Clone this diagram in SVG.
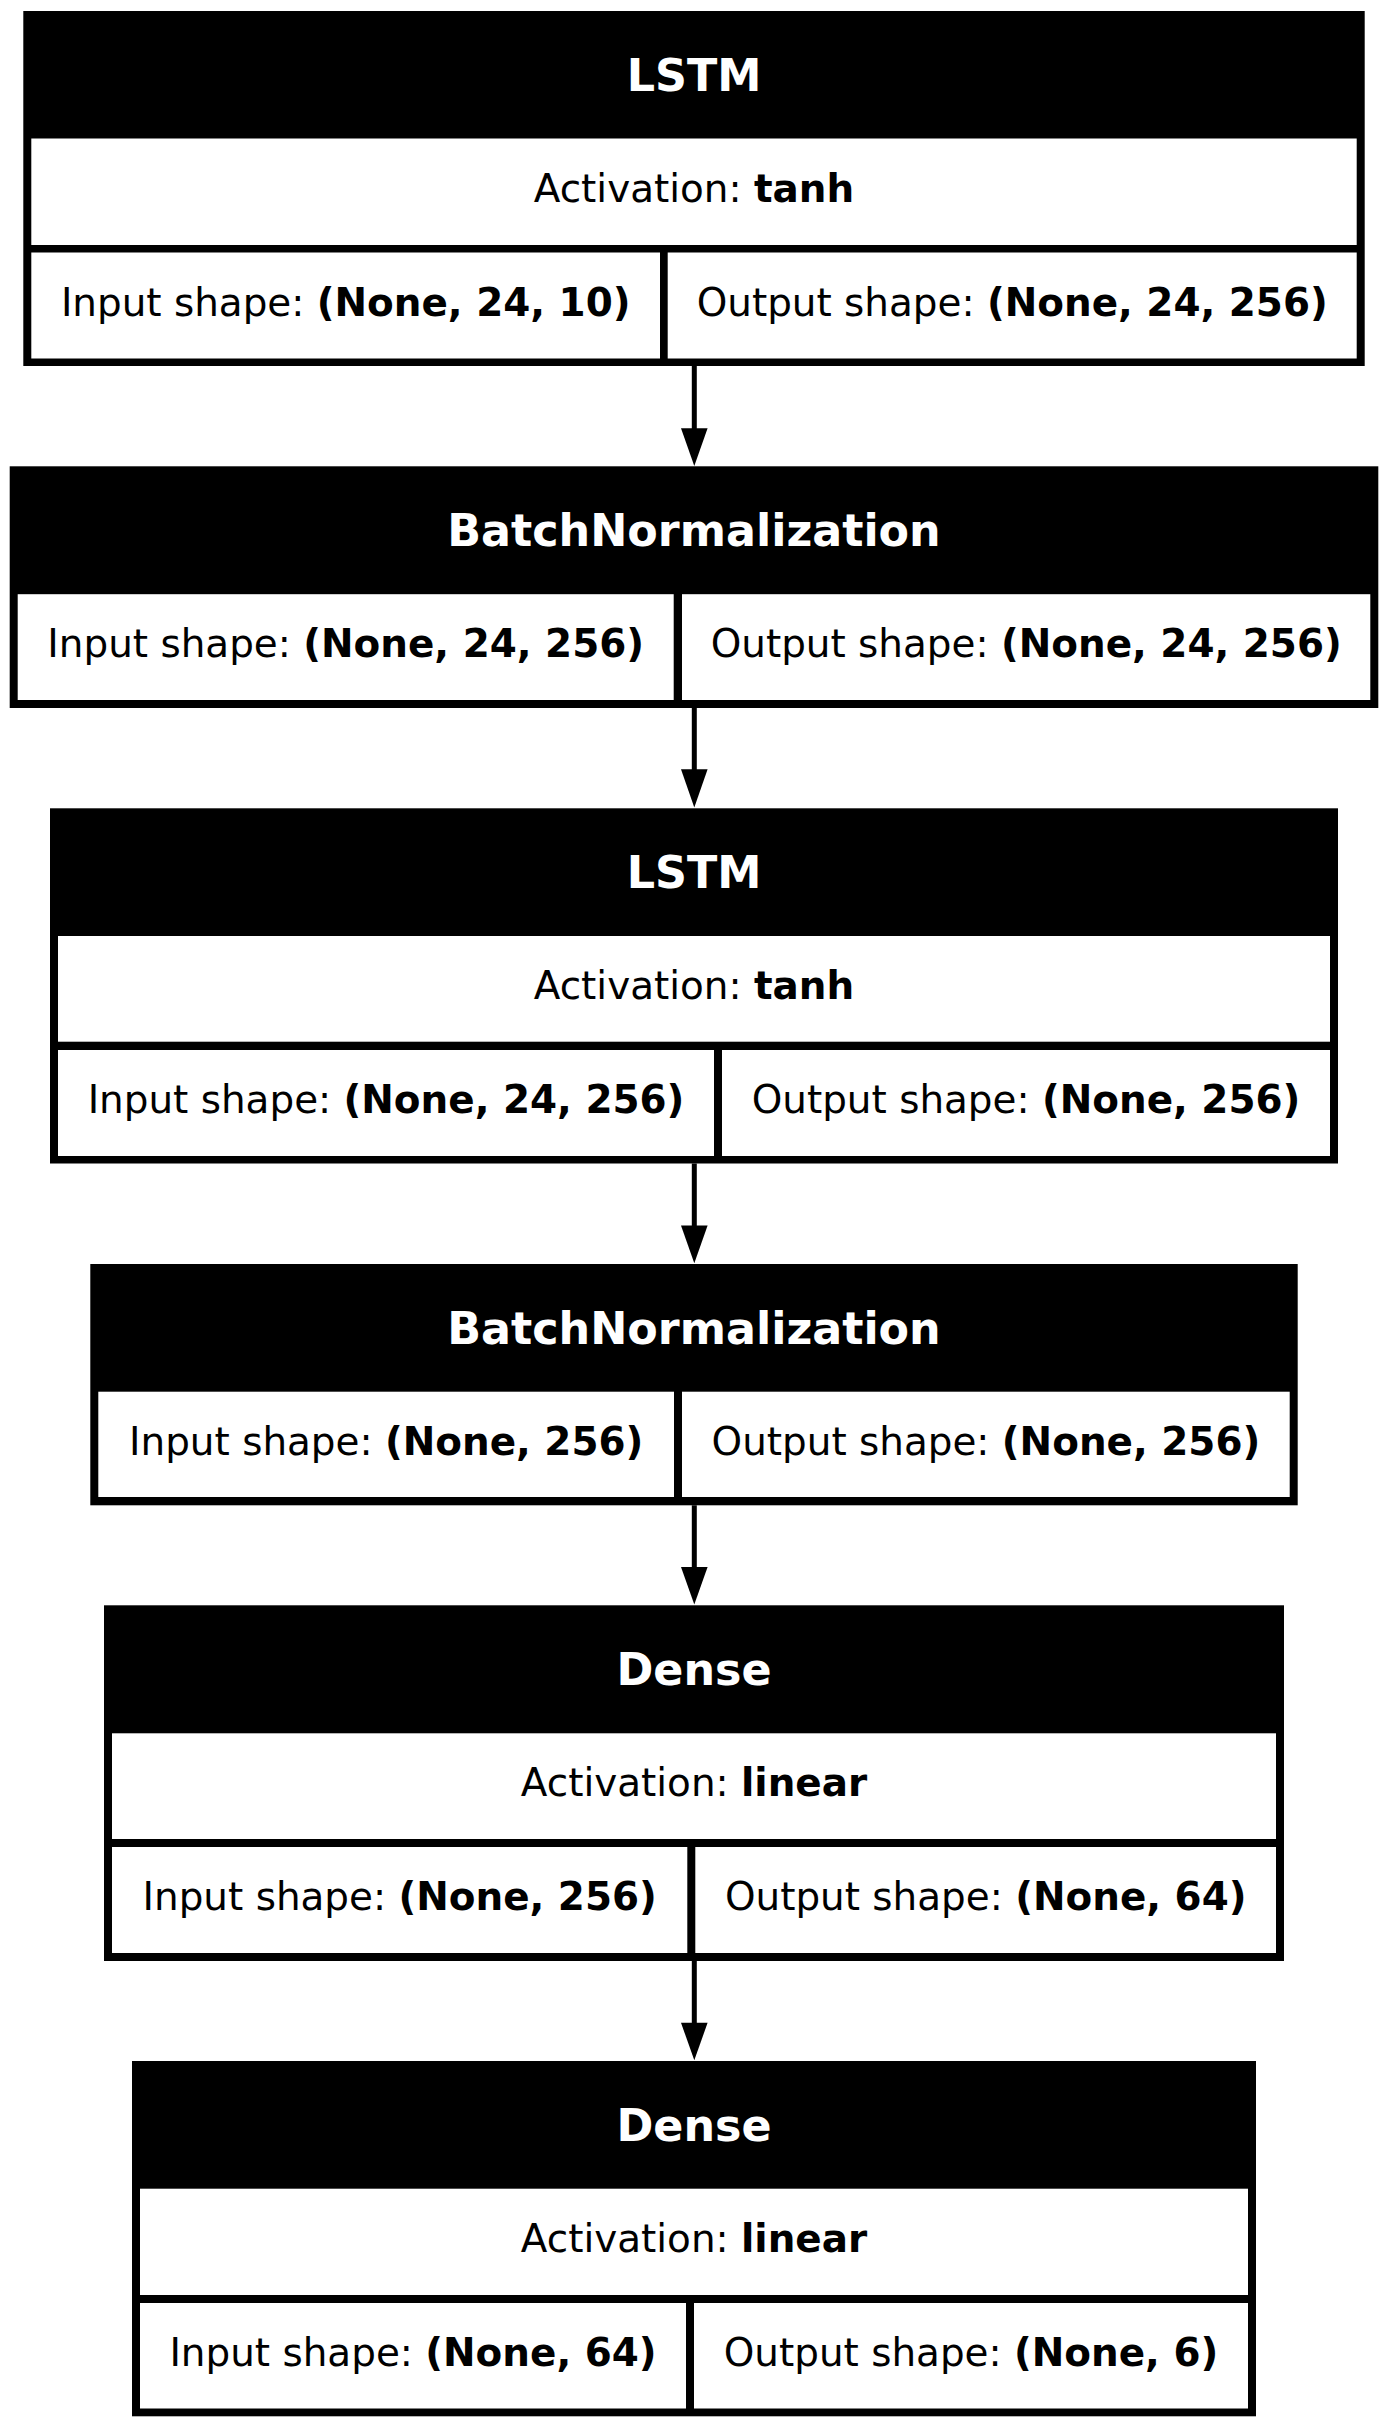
<svg xmlns="http://www.w3.org/2000/svg" width="1389" height="2428" viewBox="0 0 1389 2428">
<style>
.frame{fill:#000}
.cell{fill:#fff}
.hd{font-family:"DejaVu Sans",sans-serif;font-size:44.4px;font-weight:bold;fill:#fff;text-anchor:middle}
.tx{font-family:"DejaVu Sans",sans-serif;font-size:38.9px;fill:#000;text-anchor:middle}
.b{font-weight:bold}
.edge{stroke:#000;stroke-width:5;fill:none}
.head{fill:#000}
</style>
<rect width="1389" height="2428" fill="#fff"/>
<g id="connectors">
<line class="edge" x1="694.3" y1="366" x2="694.3" y2="430"/>
<polygon class="head" points="681,428.3 707.6,428.3 694.3,466"/>
<line class="edge" x1="694.3" y1="708" x2="694.3" y2="771"/>
<polygon class="head" points="681,769.3 707.6,769.3 694.3,807.5"/>
<line class="edge" x1="694.3" y1="1163.5" x2="694.3" y2="1228"/>
<polygon class="head" points="681,1225.5 707.6,1225.5 694.3,1263.3"/>
<line class="edge" x1="694.3" y1="1505.3" x2="694.3" y2="1569"/>
<polygon class="head" points="681,1567 707.6,1567 694.3,1604.6"/>
<line class="edge" x1="694.3" y1="1961" x2="694.3" y2="2025"/>
<polygon class="head" points="681,2022.7 707.6,2022.7 694.3,2060.3"/>
</g>
<g id="node1">
<rect class="frame" x="23.3" y="11" width="1341.4" height="355"/>
<rect class="cell" x="31.3" y="138.5" width="1325.4" height="106.5"/>
<rect class="cell" x="31.3" y="252.5" width="628.7" height="106"/>
<rect class="cell" x="667.7" y="252.5" width="689" height="106"/>
<text class="hd" x="694" y="91">LSTM</text>
<text class="tx" x="694" y="201.5">Activation: <tspan class="b">tanh</tspan></text>
<text class="tx" x="345.7" y="315.5">Input shape: <tspan class="b">(None, 24, 10)</tspan></text>
<text class="tx" x="1012.2" y="315.5">Output shape: <tspan class="b">(None, 24, 256)</tspan></text>
</g>
<g id="node2">
<rect class="frame" x="9.7" y="466.3" width="1368.6" height="241.7"/>
<rect class="cell" x="17.7" y="594.2" width="656" height="105.8"/>
<rect class="cell" x="682" y="594.2" width="688.3" height="105.8"/>
<text class="hd" x="694" y="546.3">BatchNormalization</text>
<text class="tx" x="345.7" y="657.2">Input shape: <tspan class="b">(None, 24, 256)</tspan></text>
<text class="tx" x="1026.2" y="657.2">Output shape: <tspan class="b">(None, 24, 256)</tspan></text>
</g>
<g id="node3">
<rect class="frame" x="50" y="808.3" width="1288" height="355.2"/>
<rect class="cell" x="58" y="936" width="1272" height="105.7"/>
<rect class="cell" x="58" y="1050" width="656" height="106"/>
<rect class="cell" x="722" y="1050" width="608" height="106"/>
<text class="hd" x="694" y="888.2">LSTM</text>
<text class="tx" x="694" y="999">Activation: <tspan class="b">tanh</tspan></text>
<text class="tx" x="386" y="1113">Input shape: <tspan class="b">(None, 24, 256)</tspan></text>
<text class="tx" x="1026" y="1113">Output shape: <tspan class="b">(None, 256)</tspan></text>
</g>
<g id="node4">
<rect class="frame" x="90.3" y="1264" width="1207.4" height="241.3"/>
<rect class="cell" x="98.3" y="1391.7" width="575.7" height="105.3"/>
<rect class="cell" x="682" y="1391.7" width="607.7" height="105.3"/>
<text class="hd" x="694" y="1343.8">BatchNormalization</text>
<text class="tx" x="386.2" y="1454.7">Input shape: <tspan class="b">(None, 256)</tspan></text>
<text class="tx" x="985.9" y="1454.7">Output shape: <tspan class="b">(None, 256)</tspan></text>
</g>
<g id="node5">
<rect class="frame" x="104" y="1605.3" width="1180" height="355.7"/>
<rect class="cell" x="112" y="1733.3" width="1164" height="105.7"/>
<rect class="cell" x="112" y="1847" width="575.3" height="106"/>
<rect class="cell" x="695.3" y="1847" width="580.7" height="106"/>
<text class="hd" x="694" y="1685.3">Dense</text>
<text class="tx" x="694" y="1796.3">Activation: <tspan class="b">linear</tspan></text>
<text class="tx" x="399.7" y="1910">Input shape: <tspan class="b">(None, 256)</tspan></text>
<text class="tx" x="985.7" y="1910">Output shape: <tspan class="b">(None, 64)</tspan></text>
</g>
<g id="node6">
<rect class="frame" x="132" y="2061" width="1124" height="355.3"/>
<rect class="cell" x="140" y="2188.7" width="1108" height="106.3"/>
<rect class="cell" x="140" y="2303" width="546" height="105.5"/>
<rect class="cell" x="694" y="2303" width="554" height="105.5"/>
<text class="hd" x="694" y="2140.9">Dense</text>
<text class="tx" x="694" y="2251.7">Activation: <tspan class="b">linear</tspan></text>
<text class="tx" x="413" y="2366">Input shape: <tspan class="b">(None, 64)</tspan></text>
<text class="tx" x="971" y="2366">Output shape: <tspan class="b">(None, 6)</tspan></text>
</g>
</svg>
